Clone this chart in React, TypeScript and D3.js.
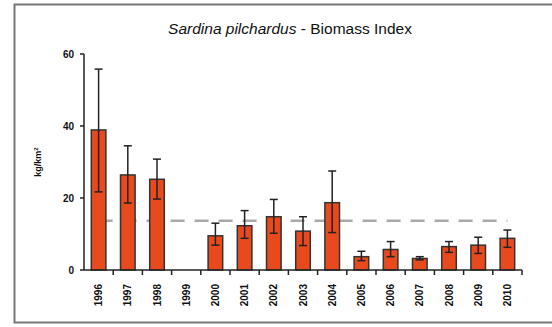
import React from 'react';
import * as d3 from 'd3';

const years = ['1996', '1997', '1998', '1999', '2000', '2001', '2002', '2003', '2004', '2005', '2006', '2007', '2008', '2009', '2010'];
const biomass = [38.9, 26.4, 25.2, null, 9.5, 12.3, 14.8, 10.8, 18.7, 3.7, 5.7, 3.2, 6.5, 6.9, 8.8];
const errUp = [55.8, 34.5, 30.8, null, 13.0, 16.5, 19.6, 14.8, 27.5, 5.2, 7.9, 3.7, 7.9, 9.1, 11.1];
const errLow = [21.7, 18.6, 19.7, null, 6.9, 8.8, 10.2, 6.8, 10.4, 2.6, 3.7, 2.8, 4.9, 4.6, 6.3];
const yTicks = [0, 20, 40, 60];
const meanLevel = 13.7;

const W = 552;
const H = 327;
const margin = { top: 54, right: 30, bottom: 57, left: 84 };

const App: React.FC = () => {
  const x = d3.scaleBand<string>()
    .domain(years)
    .range([margin.left, W - margin.right])
    .paddingInner(0.5)
    .paddingOuter(0.25);

  const y = d3.scaleLinear()
    .domain([0, 60])
    .range([H - margin.bottom, margin.top]);

  const step = x.step();
  const bw = x.bandwidth();
  const font = '"Liberation Sans", Arial, sans-serif';
  const capW = 8;

  return (
    <div style={{ position: 'absolute', left: 0, top: 0 }}>
      <svg width={W} height={H} style={{ display: 'block', fontFamily: font }}>
        <rect x={0} y={0} width={W} height={H} fill="#fff" />
        {/* frame */}
        <rect x={14.5} y={4.5} width={W + 10} height={318} fill="none" stroke="#777" strokeWidth={2} />

        <text x={290} y={34} textAnchor="middle" fontSize={15.5} fill="#111">
          <tspan fontStyle="italic">Sardina pilchardus</tspan> - Biomass Index
        </text>

        {/* y label */}
        <text
          transform={`translate(41,${y(30)}) rotate(-90)`}
          textAnchor="middle"
          fontSize={9}
          fontWeight="bold"
          fill="#111"
        >
          kg/km<tspan dy={-3} fontSize={6}>2</tspan>
        </text>

        {/* mean line */}
        <line
          x1={x(years[0])! + bw / 2}
          x2={x(years[years.length - 1])! + bw / 2}
          y1={y(meanLevel)}
          y2={y(meanLevel)}
          stroke="#aaa"
          strokeWidth={2.5}
          strokeDasharray="14 10"
        />

        {/* bars */}
        {years.map((yr, i) => {
          const v = biomass[i];
          if (v == null) return null;
          const bx = x(yr)!;
          const cx = bx + bw / 2;
          return (
            <g key={yr}>
              <rect x={bx} y={y(v)} width={bw} height={y(0) - y(v)} fill="#e8491d" stroke="#333" strokeWidth={1.5} />
              <line x1={cx} x2={cx} y1={y(errUp[i]!)} y2={y(errLow[i]!)} stroke="#222" strokeWidth={1.5} />
              <line x1={cx - capW / 2} x2={cx + capW / 2} y1={y(errUp[i]!)} y2={y(errUp[i]!)} stroke="#222" strokeWidth={1.5} />
              <line x1={cx - capW / 2} x2={cx + capW / 2} y1={y(errLow[i]!)} y2={y(errLow[i]!)} stroke="#222" strokeWidth={1.5} />
            </g>
          );
        })}

        {/* y axis */}
        <line x1={margin.left} x2={margin.left} y1={y(60)} y2={y(0)} stroke="#222" strokeWidth={1.5} />
        {yTicks.map(t => (
          <g key={t}>
            <line x1={margin.left - 4} x2={margin.left} y1={y(t)} y2={y(t)} stroke="#222" strokeWidth={1.5} />
            <text x={margin.left - 10} y={y(t) + 3.5} textAnchor="end" fontSize={10} fontWeight="bold" fill="#111">{t}</text>
          </g>
        ))}

        {/* x axis */}
        <line x1={margin.left} x2={W - margin.right} y1={y(0)} y2={y(0)} stroke="#222" strokeWidth={1.5} />
        {years.map((yr, i) => (
          <g key={yr}>
            <line
              x1={margin.left + (i + 1) * step}
              x2={margin.left + (i + 1) * step}
              y1={y(0)}
              y2={y(0) + 5}
              stroke="#222"
              strokeWidth={1.5}
            />
            <text
              transform={`translate(${x(yr)! + bw / 2 + 3.5},${y(0) + 14}) rotate(-90)`}
              textAnchor="end"
              fontSize={10}
              fontWeight="bold"
              fill="#111"
            >
              {yr}
            </text>
          </g>
        ))}
      </svg>
    </div>
  );
};

export default App;
